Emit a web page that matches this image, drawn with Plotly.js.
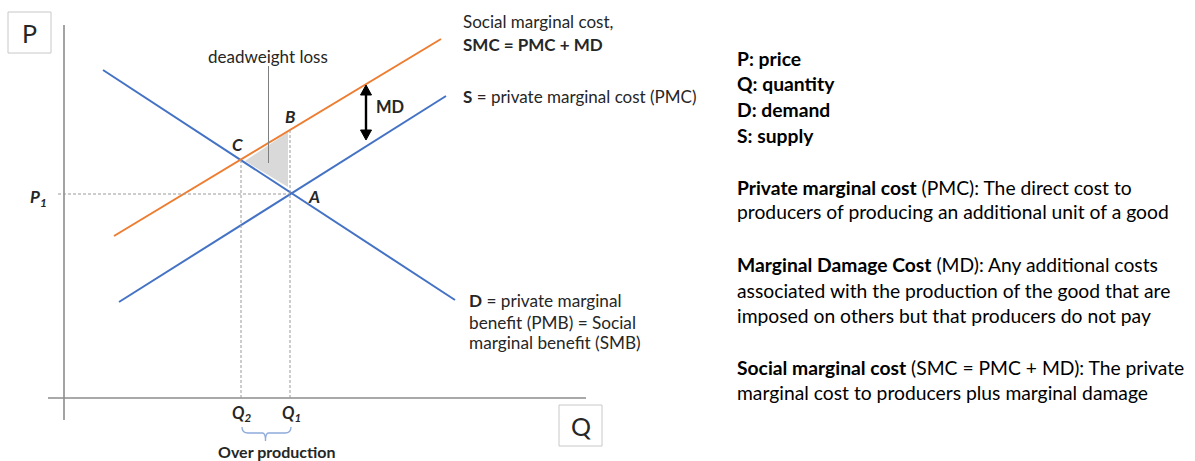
<!DOCTYPE html>
<html>
<head>
<meta charset="utf-8">
<script src="https://cdn.plot.ly/plotly-3.0.1.min.js"></script>
<style>html,body{margin:0;padding:0;background:#fff;}#chart{width:1195px;height:461px;}</style>
</head>
<body>
<div id="chart"></div>
<script>
// ---- data (quantity Q on x, price P on y) ----
var demandQ = [3.9, 39.1];
var demandP = [32.8, 9.8];
var supplyQ = [5.5, 38.2];
var supplyP = [9.6, 30.2];
var smcQ = [5.0, 37.7];
var smcP = [16.2, 35.9];
var Q1 = 22.6, Q2 = 17.7, P1 = 20.4;
var pointC_P = 23.8, pointB_P = 26.8;
var dwlQ = [18.1, 22.4, 22.4];
var dwlP = [23.7, 26.6, 21.1];
var mdQ = 30.2, mdTop = 31.3, mdBottom = 25.8;

var legendLines = [
  "<b>P: price</b>",
  "<b>Q: quantity</b>",
  "<b>D: demand</b>",
  "<b>S: supply</b>",
  "<b>Private marginal cost</b> (PMC): The direct cost to",
  "producers of producing an additional unit of a good",
  "<b>Marginal Damage Cost</b> (MD): Any additional costs",
  "associated with the production of the good that are",
  "imposed on others but that producers do not pay",
  "<b>Social marginal cost</b> (SMC = PMC + MD): The private",
  "marginal cost to producers plus marginal damage"
];
var legendY = [34.0, 31.5, 28.9, 26.3, 21.1, 18.7, 13.4, 10.8, 8.3, 3.1, 0.6];
var demandLabel = ["<b>D</b> = private marginal", "benefit (PMB) = Social", "marginal benefit (SMB)"];
var demandLabelY = [9.8, 7.6, 5.6];

var FONT = "Lato, 'Open Sans', sans-serif";
var BLUE = "#4472C4", ORANGE = "#ED7D31";

var traces = [
  {x: [dwlQ[0], dwlQ[1], dwlQ[2], dwlQ[0]], y: [dwlP[0], dwlP[1], dwlP[2], dwlP[0]], mode: "lines",
   fill: "toself", fillcolor: "#d9d9d9", line: {width: 0, color: "rgba(0,0,0,0)"}, hoverinfo: "skip"},
  {x: demandQ, y: demandP, mode: "lines", line: {color: BLUE, width: 2}, hoverinfo: "skip"},
  {x: supplyQ, y: supplyP, mode: "lines", line: {color: BLUE, width: 2}, hoverinfo: "skip"},
  {x: smcQ, y: smcP, mode: "lines", line: {color: ORANGE, width: 2}, hoverinfo: "skip"}
];

var dashStyle = {color: "#9a9a9a", width: 1, dash: "3px,2px"};
var shapes = [
  // axes
  {type: "line", x0: 0, x1: 0, y0: 37.3, y1: -2.2, line: {color: "#8c8c8c", width: 1.6}},
  {type: "line", x0: -1.6, x1: 52.2, y0: 0, y1: 0, line: {color: "#8c8c8c", width: 1.6}},
  // guide lines
  {type: "line", x0: -0.6, x1: Q1, y0: P1, y1: P1, line: dashStyle},
  {type: "line", x0: Q1, x1: Q1, y0: pointB_P, y1: 0, line: dashStyle},
  {type: "line", x0: Q2, x1: Q2, y0: pointC_P, y1: 0, line: dashStyle},
  // deadweight pointer
  {type: "line", x0: 20.45, x1: 20.45, y0: 33.2, y1: 23.5, line: {color: "#7f7f7f", width: 1}},
  // MD double arrow shaft
  {type: "line", x0: mdQ, x1: mdQ, y0: mdTop - 0.6, y1: mdBottom + 0.6, line: {color: "#000", width: 2.4}},
  // P and Q boxes
  {type: "rect", x0: -5.6, x1: -1.3, y0: 34.5, y1: 38.6, line: {color: "#c8c8c8", width: 1}, fillcolor: "#fff"},
  {type: "rect", x0: 49.5, x1: 53.8, y0: -0.7, y1: -4.8, line: {color: "#c8c8c8", width: 1}, fillcolor: "#fff"},
  // over production brace
  {type: "path", path: "M " + (Q2 + 0.1) + " -2.9 Q " + (Q2 + 0.1) + " -3.5 " + (Q2 + 0.7) + " -3.5 L " + ((Q1 + Q2) / 2 - 0.3) + " -3.5 Q " + ((Q1 + Q2) / 2) + " -3.5 " + ((Q1 + Q2) / 2) + " -4.3 Q " + ((Q1 + Q2) / 2) + " -3.5 " + ((Q1 + Q2) / 2 + 0.3) + " -3.5 L " + (Q1 - 0.5) + " -3.5 Q " + (Q1 + 0.1) + " -3.5 " + (Q1 + 0.1) + " -2.9",
   line: {color: "#8faadc", width: 1.3}},
  // arrow heads for MD (triangles)
  {type: "path", path: "M " + (mdQ - 0.55) + " " + (mdTop - 1.0) + " L " + mdQ + " " + mdTop + " L " + (mdQ + 0.55) + " " + (mdTop - 1.0) + " Z",
   fillcolor: "#000", line: {color: "#000", width: 1}},
  {type: "path", path: "M " + (mdQ - 0.55) + " " + (mdBottom + 1.0) + " L " + mdQ + " " + mdBottom + " L " + (mdQ + 0.55) + " " + (mdBottom + 1.0) + " Z",
   fillcolor: "#000", line: {color: "#000", width: 1}}
];

function ann(x, y, text, size, opts) {
  var a = {x: x, y: y, text: text, showarrow: false, xanchor: "center", yanchor: "middle",
           font: {family: FONT, size: size, color: "#262626"}};
  for (var k in (opts || {})) a[k] = opts[k];
  return a;
}

var annotations = [
  ann(-3.45, 36.55, "P", 25),
  ann(51.65, -2.75, "Q", 25),
  ann(20.4, 34.2, "deadweight loss", 17),
  ann(22.6, 28.2, "<b><i>B</i></b>", 17),
  ann(17.3, 25.4, "<b><i>C</i></b>", 17),
  ann(25.0, 20.2, "<b><i>A</i></b>", 17),
  ann(-2.6, 20.0, "<b><i>P<sub>1</sub></i></b>", 17),
  ann(Q2, -1.5, "<b><i>Q<sub>2</sub></i></b>", 16.5),
  ann(Q1 + 0.1, -1.5, "<b><i>Q<sub>1</sub></i></b>", 16.5),
  ann(21.3, -5.35, "<b>Over production</b>", 16),
  ann(32.6, 29.1, "<b>MD</b>", 16.5),
  ann(39.7, 37.7, "Social marginal cost,", 17, {xanchor: "left"}),
  ann(39.7, 35.4, "<b>SMC = PMC + MD</b>", 17, {xanchor: "left"}),
  ann(39.7, 30.2, "<b>S</b> = private marginal cost (PMC)", 17, {xanchor: "left"})
];
for (var i = 0; i < demandLabel.length; i++) {
  annotations.push(ann(40.3, demandLabelY[i], demandLabel[i], 17.2, {xanchor: "left"}));
}
for (var j = 0; j < legendLines.length; j++) {
  annotations.push(ann(67.1, legendY[j], legendLines[j], 19.3, {xanchor: "left", font: {family: FONT, size: 19.3, color: "#000"}}));
}

var layout = {
  width: 1195, height: 461,
  margin: {l: 0, r: 0, t: 0, b: 0, pad: 0},
  paper_bgcolor: "#fff", plot_bgcolor: "#fff",
  showlegend: false,
  xaxis: {range: [-6.4, 113.1], visible: false, fixedrange: true},
  yaxis: {range: [-6.3, 39.8], visible: false, fixedrange: true},
  shapes: shapes,
  annotations: annotations
};

Plotly.newPlot("chart", traces, layout, {displayModeBar: false, staticPlot: true});
</script>
</body>
</html>
